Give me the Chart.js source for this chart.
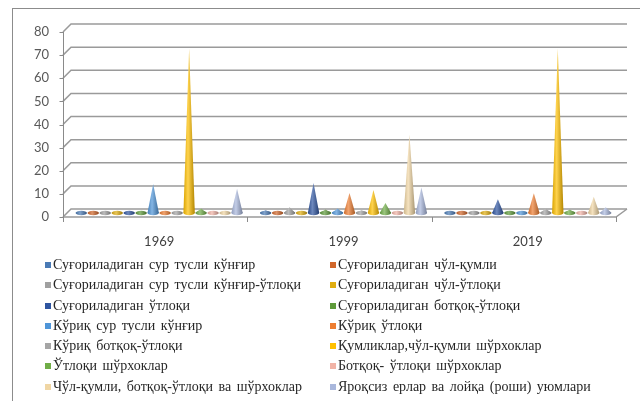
<!DOCTYPE html>
<html>
<head>
<meta charset="utf-8">
<script src="https://cdn.jsdelivr.net/npm/chart.js@4"></script>
<style>
html, body { margin: 0; padding: 0; background: #fff; }
#wrap { position: relative; width: 640px; height: 401px; overflow: hidden; }
#legend { position: absolute; left: 45px; top: 255px; display: grid; grid-template-columns: 285px 300px;
          font: 14px "Liberation Serif"; color: #262626; }
.item { height: 20.3px; line-height: 20.3px; white-space: nowrap; word-spacing: 2px; }
.box { display: inline-block; width: 6px; height: 6px; margin-right: 2px; vertical-align: 1px; }
</style>
</head>
<body>
<div id="wrap">
  <canvas id="chart" width="640" height="401"></canvas>
  <div id="legend"></div>
</div>
<script>
// categories
const years = ['1969', '1999', '2019'];

// series names (legend order)
const seriesNames = [
    'Суғориладиган сур тусли кўнғир',
    'Суғориладиган чўл-қумли',
    'Суғориладиган сур тусли кўнғир-ўтлоқи',
    'Суғориладиган чўл-ўтлоқи',
    'Суғориладиган ўтлоқи',
    'Суғориладиган ботқоқ-ўтлоқи',
    'Кўриқ сур тусли кўнғир',
    'Кўриқ ўтлоқи',
    'Кўриқ ботқоқ-ўтлоқи',
    'Қумликлар,чўл-қумли шўрхоклар',
    'Ўтлоқи шўрхоклар',
    'Ботқоқ- ўтлоқи шўрхоклар',
    'Чўл-қумли, ботқоқ-ўтлоқи ва шўрхоклар',
    'Яроқсиз ерлар ва лойқа (роши) уюмлари'
];

const seriesColors = [
    '#4a7ab5', '#d0662a', '#a0a0a0', '#e0ad10', '#2e55a0', '#5e9a3a', '#4f95d8',
    '#ed7d31', '#a5a5a5', '#ffc000', '#70ad47', '#f1b3a6', '#f0d6a4', '#a9b7dc'
];

// values per series: 1969, 1999, 2019
const s1 = [0.6, 1.2, 0.5];
const s2 = [0.5, 0.5, 0.5];
const s3 = [0.5, 2.5, 0.5];
const s4 = [0.5, 0.8, 0.5];
const s5 = [0.6, 13, 6];
const s6 = [0.6, 1.5, 0.6];
const s7 = [12.5, 2, 0.6];
const s8 = [0.6, 8.7, 8.5];
const s9 = [0.6, 1.2, 2];
const s10 = [71, 10, 71];
const s11 = [2, 4.3, 1.5];
const s12 = [0.5, 0.6, 0.5];
const s13 = [0.6, 34, 7];
const s14 = [10.5, 11, 2.5];
const seriesValues = [s1, s2, s3, s4, s5, s6, s7, s8, s9, s10, s11, s12, s13, s14];

const yMax = 80;
const yStep = 10;

const depth = 4;

function mix(hex, t) {
    const n = parseInt(hex.slice(1), 16);
    const f = v => Math.round(t > 0 ? v + (255 - v) * t : v * (1 + t));
    return `rgb(${f(n >> 16)},${f((n >> 8) & 255)},${f(n & 255)})`;
}

// frame, back walls, floor and axis lines
const frame = {
    id: 'frame',
    beforeDraw(chart) {
        const c = chart.ctx;
        c.save();
        c.fillStyle = '#fff';
        c.fillRect(0, 0, chart.width, chart.height);
        c.strokeStyle = '#8c8c8c';
        c.lineWidth = 1;
        c.strokeRect(12.5, 8.5, 700, 500);
        c.restore();
    },
    beforeDatasetsDraw(chart) {
        const { ctx: c, chartArea: a, scales: { x, y } } = chart;
        c.save();
        c.strokeStyle = '#9a9a9a';
        c.lineWidth = 1.5;
        y.ticks.forEach(t => {
            const py = y.getPixelForValue(t.value);
            c.beginPath();
            c.moveTo(a.left - depth, py + depth);
            c.lineTo(a.left + depth, py - depth);
            c.lineTo(a.right + 7, py - depth);
            c.stroke();
        });
        const y0 = y.getPixelForValue(0);
        c.beginPath();
        c.moveTo(a.left - depth, y0 + depth);
        c.lineTo(a.right - depth, y0 + depth);
        c.lineTo(a.right + 7, y0 - depth);
        c.stroke();

        // y axis
        c.strokeStyle = '#8a8a8a';
        c.lineWidth = 1;
        const ax = Math.round(a.left - depth) + 0.5;
        c.beginPath();
        c.moveTo(ax, y.getPixelForValue(yMax) + depth);
        c.lineTo(ax, y0 + depth);
        y.ticks.forEach(t => {
            const py = Math.round(y.getPixelForValue(t.value) + depth) + 0.5;
            c.moveTo(ax - 4, py);
            c.lineTo(ax, py);
        });
        // category tick marks
        for (let i = 0; i <= years.length; i++) {
            const px = Math.round(x.getPixelForValue(i - 0.5) - depth) + 0.5;
            c.moveTo(px, y0 + depth);
            c.lineTo(px, y0 + depth + 5);
        }
        c.stroke();
        c.restore();
    },
    afterDatasetsDraw(chart) {
        const c = chart.ctx;
        c.save();
        chart.data.datasets.forEach((ds, i) => {
            const col = seriesColors[i];
            chart.getDatasetMeta(i).data.forEach(el => {
                const w = el.width, x0 = el.x - w / 2, x1 = el.x + w / 2;
                const g = c.createLinearGradient(x0, 0, x1, 0);
                g.addColorStop(0, mix(col, -0.15));
                g.addColorStop(0.4, mix(col, 0.3));
                g.addColorStop(1, mix(col, -0.3));
                c.fillStyle = g;
                c.beginPath();
                c.ellipse(el.x, el.base, w / 2, 2.2, 0, 0, Math.PI * 2);
                c.fill();
                c.beginPath();
                c.moveTo(x0, el.base);
                c.lineTo(el.x, el.y);
                c.lineTo(x1, el.base);
                c.closePath();
                c.fill();
            });
        });
        c.restore();
    }
};

new Chart(document.getElementById('chart'), {
    type: 'bar',
    data: {
        labels: years,
        datasets: seriesNames.map((name, i) => ({
            label: name,
            data: seriesValues[i],
            backgroundColor: 'rgba(0,0,0,0)',
            borderWidth: 0,
            categoryPercentage: 0.91,
            barPercentage: 0.95
        }))
    },
    options: {
        responsive: false,
        animation: false,
        layout: { padding: { top: 28, right: 20, bottom: 148, left: 0 } },
        plugins: { legend: { display: false }, tooltip: { enabled: false } },
        scales: {
            x: {
                grid: { display: false, drawTicks: false },
                border: { display: false },
                ticks: { color: '#404040', font: { family: 'Lato', size: 13 }, padding: 21 },
                afterFit(s) { s.height = 40; }
            },
            y: {
                min: 0,
                max: yMax,
                grid: { display: false, drawTicks: false },
                border: { display: false },
                ticks: { stepSize: yStep, color: '#595959', font: { family: 'Lato', size: 13 }, padding: 18, labelOffset: 4 },
                afterFit(s) { s.width = 67; }
            }
        }
    },
    plugins: [frame]
});

// two-column legend
const legend = document.getElementById('legend');
seriesNames.forEach((name, i) => {
    const item = document.createElement('div');
    item.className = 'item';
    item.innerHTML = `<span class="box" style="background:${seriesColors[i]}"></span>`;
    item.appendChild(document.createTextNode(name));
    legend.appendChild(item);
});
</script>
</body>
</html>
